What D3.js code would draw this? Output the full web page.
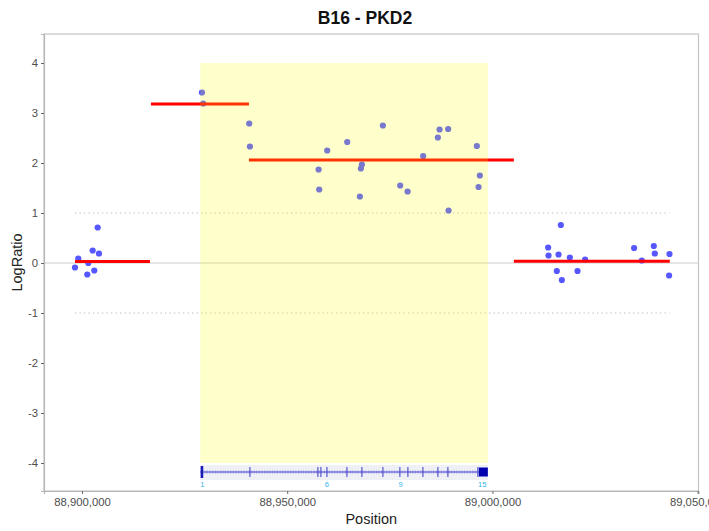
<!DOCTYPE html>
<html>
<head>
<meta charset="utf-8">
<script src="https://cdn.jsdelivr.net/npm/d3@7"></script>
<style>
  html, body { margin: 0; padding: 0; background: #fff; }
  svg { display: block; font-family: "Liberation Sans", Arial, Helvetica, sans-serif; }
</style>
</head>
<body>
<svg id="chart" width="709" height="531"></svg>
<script>
// Probe positions (bp) and log ratios
const probePos = [
  88898295, 88899099, 88901534, 88901291, 88902996, 88902606, 88904140, 88903824,
  88929226, 88929543, 88940746, 88940916, 88957648, 88957794, 88959743, 88964614,
  88967707, 88967950, 88968194, 88973308, 88977522, 88979324, 88983124, 88986704,
  88987118, 88989212, 88989310, 88996202, 88996933, 88996616,
  89013568, 89013665, 89015686, 89016100, 89016660, 89016904, 89018852, 89020728,
  89022579, 89034513, 89036388, 89039311, 89039554, 89043037, 89043134
];
const probeRatio = [
  -0.09, 0.09, 0.00, -0.23, -0.15, 0.25, 0.19, 0.71,
  3.41, 3.19, 2.79, 2.33, 1.87, 1.47, 2.25, 2.42,
  1.33, 1.89, 1.97, 2.75, 1.55, 1.43, 2.14, 2.51,
  2.67, 2.68, 1.05, 2.34, 1.75, 1.52,
  0.31, 0.15, -0.16, 0.17, 0.76, -0.34, 0.11, -0.16,
  0.07, 0.30, 0.05, 0.34, 0.19, -0.25, 0.18
];

// Segmentation calls
const segStart = [88898295, 88916805, 88940673, 89005214];
const segEnd   = [88916560, 88940673, 89005214, 89043207];
const segMean  = [0.03, 3.18, 2.06, 0.035];

// Gene model (PKD2)
const geneName = "PKD2";
const sampleName = "B16";
const geneStart = 88928799;
const geneEnd = 88998929;
const exonPos = [
  88929226, 88940916, 88957478, 88958200, 88959670, 88964541, 88968194,
  88973308, 88977449, 88979397, 88983050, 88986704, 88989139, 88996446
];
const utrStart = 88996689;
const utrEnd = 88998881;
const exonLabels = ["1", "6", "9", "15"];
const exonLabelPos = [88929300, 88959670, 88977600, 88997500];

// Axes
const xTicks = [88900000, 88950000, 89000000, 89050000];
const yTicks = [-4, -3, -2, -1, 0, 1, 2, 3, 4];

const svg = d3.select("#chart");
const plot = { left: 44, right: 698.5, top: 34, bottom: 491 };

const x = d3.scaleLinear().domain([88890747, 89050200]).range([plot.left, plot.right]);
const y = d3.scaleLinear().domain([-4.56, 4.58]).range([plot.bottom, plot.top]);

const g = svg.append("g");

// panel frame
g.append("rect")
  .attr("x", plot.left).attr("y", plot.top)
  .attr("width", plot.right - plot.left).attr("height", plot.bottom - plot.top)
  .attr("fill", "none").attr("stroke", "#c4c4c4").attr("stroke-width", 1.2);

// reference line at zero
g.append("line")
  .attr("x1", plot.left).attr("x2", plot.right)
  .attr("y1", y(0)).attr("y2", y(0))
  .attr("stroke", "#cccccc").attr("stroke-width", 1);

// +/-1 threshold lines over the probe range
const xMin = d3.min(probePos), xMax = d3.max(probePos);
g.selectAll("line.thr").data([1, -1]).join("line")
  .attr("class", "thr")
  .attr("x1", x(xMin)).attr("x2", x(xMax))
  .attr("y1", d => y(d)).attr("y2", d => y(d))
  .attr("stroke", "#bdbdbd").attr("stroke-width", 1.2)
  .attr("stroke-dasharray", "1.3,3.2");

// probes
g.selectAll("circle.probe").data(probePos.map((p, i) => [p, probeRatio[i]])).join("circle")
  .attr("class", "probe")
  .attr("cx", d => x(d[0])).attr("cy", d => y(d[1]))
  .attr("r", 3.1)
  .attr("fill", "#5757ff");

// segments
g.selectAll("line.seg").data(segMean.map((m, i) => [segStart[i], segEnd[i], m])).join("line")
  .attr("class", "seg")
  .attr("x1", d => x(d[0])).attr("x2", d => x(d[1]))
  .attr("y1", d => y(d[2])).attr("y2", d => y(d[2]))
  .attr("stroke", "#ff0000").attr("stroke-width", 3);

// gene region highlight (translucent, drawn over the data)
g.append("rect")
  .attr("x", x(geneStart)).attr("y", y(4))
  .attr("width", x(geneEnd) - x(geneStart)).attr("height", y(-4) - y(4))
  .attr("fill", "#ffff00").attr("fill-opacity", 0.2);

// gene track
const trackY = 472;
g.append("rect")
  .attr("x", x(geneStart)).attr("y", trackY - 7)
  .attr("width", x(geneEnd) - x(geneStart)).attr("height", 15)
  .attr("fill", "#efeff6");
g.append("line")
  .attr("x1", x(geneStart)).attr("x2", x(utrStart))
  .attr("y1", trackY).attr("y2", trackY)
  .attr("stroke", "#3a3acc").attr("stroke-width", 1.2);
// strand hatching along the intron line
const hatch = d3.range(x(geneStart) + 2, x(utrStart), 2.6);
g.selectAll("line.hatch").data(hatch).join("line")
  .attr("class", "hatch")
  .attr("x1", d => d).attr("x2", d => d)
  .attr("y1", trackY - 1.8).attr("y2", trackY + 1.8)
  .attr("stroke", "#6a6ae0").attr("stroke-width", 0.7).attr("stroke-opacity", 0.6);
// exons
g.selectAll("line.exon").data(exonPos).join("line")
  .attr("class", "exon")
  .attr("x1", d => x(d)).attr("x2", d => x(d))
  .attr("y1", (d, i) => i === 0 ? trackY - 6 : trackY - 5)
  .attr("y2", (d, i) => i === 0 ? trackY + 6 : trackY + 5)
  .attr("stroke", (d, i) => i === 0 ? "#1a1ab8" : "#4a4ac8")
  .attr("stroke-width", (d, i) => i === 0 ? 2.6 : 1.3)
  .attr("stroke-opacity", (d, i) => i === 0 ? 1 : 0.85);
g.append("rect")
  .attr("x", x(utrStart)).attr("y", trackY - 4.5)
  .attr("width", x(utrEnd) - x(utrStart)).attr("height", 9)
  .attr("fill", "#0000b0");
g.selectAll("text.exonlab").data(exonLabels).join("text")
  .attr("class", "exonlab")
  .attr("x", (d, i) => x(exonLabelPos[i])).attr("y", trackY + 15)
  .attr("text-anchor", "middle")
  .attr("font-size", 7.5).attr("fill", "#33b5f0")
  .text(d => d);

// x axis
const xAxis = d3.axisBottom(x).tickValues(xTicks).tickFormat(d3.format(",")).tickSize(3).tickPadding(4);
const gx = svg.append("g").attr("transform", `translate(0,${plot.bottom})`).call(xAxis);
gx.select(".domain").attr("stroke", "#b8b8b8").attr("stroke-width", 1.2);
gx.selectAll(".tick line").attr("stroke", "#666");
gx.selectAll(".tick text").attr("font-size", 11.3).attr("fill", "#4d4d4d")
  .attr("font-family", "Liberation Sans, Arial, sans-serif");

// y axis (plain hyphen for negatives)
const yAxis = d3.axisLeft(y).tickValues(yTicks).tickFormat(d => String(d)).tickSize(3).tickPadding(3);
const gy = svg.append("g").attr("transform", `translate(${plot.left},0)`).call(yAxis);
gy.select(".domain").attr("stroke", "#b8b8b8").attr("stroke-width", 1.2);
gy.selectAll(".tick line").attr("stroke", "#666");
gy.selectAll(".tick text").attr("font-size", 11.3).attr("fill", "#4d4d4d")
  .attr("font-family", "Liberation Sans, Arial, sans-serif");

// titles
svg.append("text")
  .attr("x", 365).attr("y", 24)
  .attr("text-anchor", "middle")
  .attr("font-size", 17.5).attr("font-weight", "bold").attr("fill", "#111")
  .text(`${sampleName} - ${geneName}`);
svg.append("text")
  .attr("x", (plot.left + plot.right) / 2).attr("y", 524)
  .attr("text-anchor", "middle")
  .attr("font-size", 14.5).attr("fill", "#222")
  .text("Position");
svg.append("text")
  .attr("transform", `translate(22,${(plot.top + plot.bottom) / 2}) rotate(-90)`)
  .attr("text-anchor", "middle")
  .attr("font-size", 14.5).attr("fill", "#222")
  .text("LogRatio");
</script>
</body>
</html>
